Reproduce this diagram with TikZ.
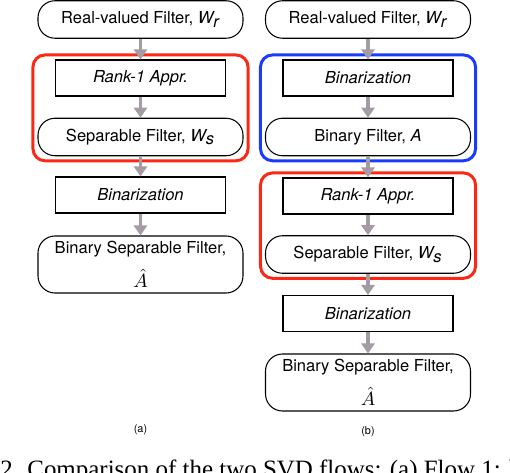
\documentclass[tikz,border=0pt]{standalone}
\usepackage{fontspec}
\setmainfont{TeX Gyre Heros}
\newfontfamily\piefont{Liberation Serif}
\usetikzlibrary{arrows.meta,fit}
\definecolor{flecha}{RGB}{165,155,165}
\definecolor{rojo}{RGB}{250,40,20}
\definecolor{azul}{RGB}{25,60,250}
\newcommand{\Ahat}{{\fontsize{11}{11}\selectfont$\hat{A}$}}
\begin{document}
\begin{tikzpicture}[
    caja/.style={draw,line width=0.6pt,minimum width=3.4cm,minimum height=0.72cm,inner sep=0pt,font=\fontsize{9.4}{11}\selectfont\itshape},
    filtro/.style={draw,line width=0.6pt,rounded corners=0.34cm,minimum width=4.1cm,minimum height=0.75cm,inner sep=0pt,align=center,font=\fontsize{9.4}{11}\selectfont},
    grupo/.style={draw,line width=1.7pt,rounded corners=0.24cm,inner sep=0.09cm},
    paso/.style={draw=flecha,line width=2.2pt,-{Triangle[width=0.26cm,length=0.2cm]}},
    etiq/.style={font=\fontsize{6.2}{7}\selectfont}
  ]
                \useasboundingbox (0,0) rectangle (10.2,9.44);
                % flujo (a)
                \node[filtro] (wr1) at (2.81,9.05) {Real-valued Filter, $\textit{W}_{\textit{r}}$};
                \node[caja] (rank1) at (2.81,7.88) {Rank-1 Appr.};
                \node[filtro] (ws1) at (2.81,6.70) {Separable Filter, $\textit{W}_{\textit{s}}$};
                \node[caja] (bin1) at (2.81,5.54) {Binarization};
                \node[filtro,minimum height=1.14cm] (bsf1) at (2.81,4.15) {Binary Separable Filter,\\[6pt]\Ahat};
                \node[grupo,draw=rojo,fit=(rank1)(ws1)] (rojo1) {};
                \draw[paso] (wr1) -- (rank1);
                \draw[paso] (rank1) -- (ws1);
                \draw[paso] (ws1) -- (bin1);
                \draw[paso] (bin1) -- (bsf1);
                \node[etiq] (a) at (2.81,0.84) {(a)};
                % flujo (b)
                \node[filtro] (wr2) at (7.36,9.05) {Real-valued Filter, $\textit{W}_{\textit{r}}$};
                \node[caja] (bin2) at (7.36,7.88) {Binarization};
                \node[filtro] (bf2) at (7.36,6.70) {Binary Filter, \textit{A}};
                \node[caja] (rank2) at (7.36,5.52) {Rank-1 Appr.};
                \node[filtro] (ws2) at (7.36,4.35) {Separable Filter, $\textit{W}_{\textit{s}}$};
                \node[caja] (bin3) at (7.36,3.17) {Binarization};
                \node[filtro,minimum height=1.14cm] (bsf2) at (7.36,1.79) {Binary Separable Filter,\\[6pt]\Ahat};
                \node[grupo,draw=azul,fit=(bin2)(bf2)] (azul2) {};
                \node[grupo,draw=rojo,fit=(rank2)(ws2)] (rojo2) {};
                \draw[paso] (wr2) -- (bin2);
                \draw[paso] (bin2) -- (bf2);
                \draw[paso] (bf2) -- (rank2);
                \draw[paso] (rank2) -- (ws2);
                \draw[paso] (ws2) -- (bin3);
                \draw[paso] (bin3) -- (bsf2);
                \node[etiq] (b) at (7.36,0.81) {(b)};
                % pie
                \node[anchor=base west,inner sep=0pt,font=\piefont\fontsize{14.2}{17}\selectfont] (pie) at (0,-0.1) {2. Comparison of the two SVD flows: (a) Flow 1: b};
\end{tikzpicture}
\end{document}
